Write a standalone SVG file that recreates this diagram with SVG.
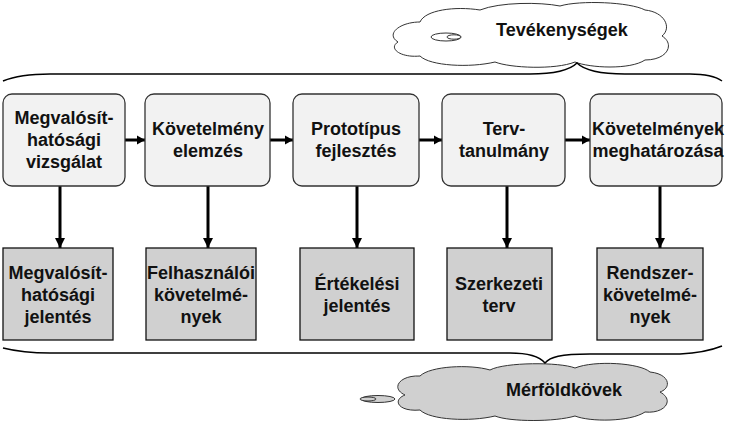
<svg xmlns="http://www.w3.org/2000/svg" width="730" height="422" viewBox="0 0 730 422">
<style>
.t{font-family:"Liberation Sans",Arial,sans-serif;font-weight:bold;font-size:18px;fill:#111;text-anchor:middle}
.act{fill:#f2f2f2;stroke:#333;stroke-width:1.3}
.ms{fill:#d0d0d0;stroke:#111;stroke-width:1.3}
.cloud{stroke:#333;stroke-width:1}
.brace{fill:none;stroke:#000;stroke-width:1.5}
.ah{stroke:#000;stroke-width:3;fill:none}
.av{stroke:#000;stroke-width:3;fill:none}
</style>
<defs>
<marker id="mh" markerUnits="userSpaceOnUse" markerWidth="10" markerHeight="10" refX="8" refY="5" orient="auto">
<path d="M0,0.5 L8,5 L0,9.5 Z" fill="#000"/>
</marker>
<marker id="mv" markerUnits="userSpaceOnUse" markerWidth="12" markerHeight="12" refX="10" refY="6" orient="auto">
<path d="M0,1 L10,6 L0,11 Z" fill="#000"/>
</marker>
</defs>

<g id="cloud-top">
<path class="cloud" fill="#ffffff" d="M398,42 C385,34 400,22 420,22 C425,10 455,6 480,10 C500,2 540,2 560,6 C580,0 630,2 645,10 C665,12 672,28 662,36 C675,44 668,60 645,60 C630,70 590,68 575,62 C555,70 510,68 495,62 C470,68 430,66 420,56 C400,58 388,48 398,42 Z"/>
<ellipse class="cloud" fill="#ffffff" cx="446" cy="37" rx="15" ry="4"/>
<ellipse class="cloud" fill="#ffffff" cx="454" cy="37" rx="7" ry="2.2"/>
<text class="t" x="562" y="36">Tevékenységek</text>
</g>

<g id="cloud-bottom">
<path class="cloud" fill="#d0d0d0" d="M405,395 C390,388 400,375 420,376 C430,366 470,364 490,370 C505,362 560,362 575,368 C595,360 640,363 650,372 C670,374 672,388 660,392 C675,400 665,414 645,412 C630,422 590,422 575,416 C555,422 510,422 495,416 C470,422 430,420 420,410 C398,412 392,400 405,395 Z"/>
<ellipse class="cloud" fill="#d0d0d0" cx="378" cy="399" rx="17" ry="3.5"/>
<ellipse class="cloud" fill="#d0d0d0" cx="368" cy="399" rx="8" ry="2"/>
<text class="t" x="564" y="396">Mérföldkövek</text>
</g>

<g id="braces">
<path class="brace" d="M3,81 C15,76 30,74 50,74 L530,74 C555,74 570,70 577,63 C584,70 600,74 625,74 L690,74 C705,74 715,76 722,81"/>
<path class="brace" d="M3,348 C15,351 30,353 50,353 L510,353 C530,353 540,357 545,363 C550,357 560,354 590,354 L680,354 C700,353 712,350 722,346"/>
</g>

<g id="connectors">
<line class="ah" x1="125" y1="140" x2="145" y2="140" marker-end="url(#mh)"/>
<line class="ah" x1="270" y1="140" x2="293" y2="140" marker-end="url(#mh)"/>
<line class="ah" x1="419" y1="140" x2="442" y2="140" marker-end="url(#mh)"/>
<line class="ah" x1="565" y1="140" x2="590" y2="140" marker-end="url(#mh)"/>
<line class="av" x1="60" y1="186" x2="60" y2="248" marker-end="url(#mv)"/>
<line class="av" x1="208" y1="186" x2="208" y2="248" marker-end="url(#mv)"/>
<line class="av" x1="357" y1="186" x2="357" y2="248" marker-end="url(#mv)"/>
<line class="av" x1="507" y1="186" x2="507" y2="248" marker-end="url(#mv)"/>
<line class="av" x1="660" y1="186" x2="660" y2="248" marker-end="url(#mv)"/>
</g>

<g id="a1"><rect class="act" x="3" y="94" width="122" height="92" rx="9"/>
<text class="t" x="64" y="124">Megvalósít-</text><text class="t" x="64" y="146">hatósági</text><text class="t" x="64" y="168">vizsgálat</text></g>
<g id="a2"><rect class="act" x="145" y="94" width="125" height="92" rx="9"/>
<text class="t" x="208" y="135">Követelmény</text><text class="t" x="208" y="157">elemzés</text></g>
<g id="a3"><rect class="act" x="293" y="94" width="126" height="92" rx="9"/>
<text class="t" x="356" y="135">Prototípus</text><text class="t" x="356" y="157">fejlesztés</text></g>
<g id="a4"><rect class="act" x="442" y="94" width="123" height="92" rx="9"/>
<text class="t" x="504" y="135">Terv-</text><text class="t" x="504" y="157">tanulmány</text></g>
<g id="a5"><rect class="act" x="590" y="94" width="132" height="92" rx="9"/>
<text class="t" x="658" y="135">Követelmények</text><text class="t" x="658" y="157">meghatározása</text></g>

<g id="m1"><rect class="ms" x="3" y="248" width="110" height="92"/>
<text class="t" x="58" y="279">Megvalósít-</text><text class="t" x="58" y="301">hatósági</text><text class="t" x="58" y="323">jelentés</text></g>
<g id="m2"><rect class="ms" x="146" y="248" width="110" height="92"/>
<text class="t" x="201" y="279">Felhasználói</text><text class="t" x="201" y="301">követelmé-</text><text class="t" x="201" y="323">nyek</text></g>
<g id="m3"><rect class="ms" x="300" y="248" width="114" height="92"/>
<text class="t" x="357" y="290">Értékelési</text><text class="t" x="357" y="312">jelentés</text></g>
<g id="m4"><rect class="ms" x="447" y="248" width="105" height="92"/>
<text class="t" x="499" y="290">Szerkezeti</text><text class="t" x="499" y="312">terv</text></g>
<g id="m5"><rect class="ms" x="597" y="248" width="106" height="92"/>
<text class="t" x="650" y="279">Rendszer-</text><text class="t" x="650" y="301">követelmé-</text><text class="t" x="650" y="323">nyek</text></g>
</svg>
